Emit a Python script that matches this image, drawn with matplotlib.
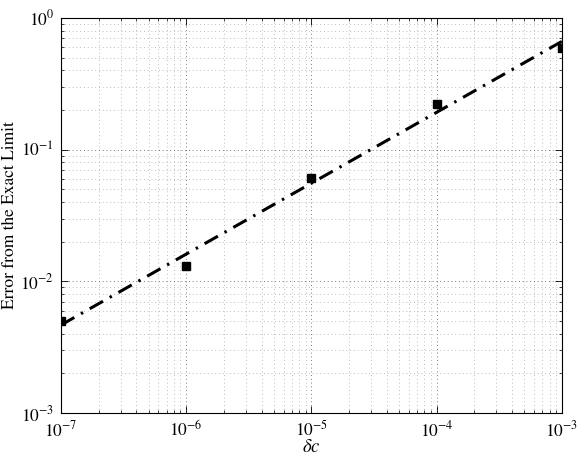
import numpy as np
import matplotlib
matplotlib.use("Agg")
import matplotlib.pyplot as plt
from matplotlib.ticker import LogLocator, NullFormatter

matplotlib.rcParams['mathtext.fontset'] = 'stix'
matplotlib.rcParams['font.family'] = 'STIXGeneral'

# data
delta_c = np.array([1e-7, 1e-6, 1e-5, 1e-4, 1e-3])
error = np.array([0.0050, 0.0131, 0.0613, 0.222, 0.595])

x_ticks = [1e-7, 1e-6, 1e-5, 1e-4, 1e-3]
x_ticklabels = [r'$10^{-7}$', r'$10^{-6}$', r'$10^{-5}$', r'$10^{-4}$', r'$10^{-3}$']
y_ticks = [1e-3, 1e-2, 1e-1, 1e0]
y_ticklabels = [r'$10^{-3}$', r'$10^{-2}$', r'$10^{-1}$', r'$10^{0}$']

# least squares fit in log-log
coeffs = np.polyfit(np.log10(delta_c), np.log10(error), deg=1)
poly = np.poly1d(coeffs)
yfit = 10 ** poly(np.log10(delta_c))

fig = plt.figure(figsize=(5.81, 4.58), dpi=100)
ax = fig.add_axes([0.105, 0.098, 0.862, 0.863])

ax.plot(delta_c, yfit, color='black', lw=2.2, linestyle=(0, (5, 2.5, 0.8, 2.5)), zorder=4)
ax.plot(delta_c, error, 's', color='black', markersize=6, zorder=5)

ax.set_xscale('log')
ax.set_yscale('log')
ax.set_xlim(1e-7, 1e-3)
ax.set_ylim(1e-3, 1e0)

ax.set_xticks(x_ticks)
ax.set_xticklabels(x_ticklabels)
ax.set_yticks(y_ticks)
ax.set_yticklabels(y_ticklabels)
ax.xaxis.set_minor_locator(LogLocator(base=10, subs=np.arange(2, 10)))
ax.yaxis.set_minor_locator(LogLocator(base=10, subs=np.arange(2, 10)))
ax.xaxis.set_minor_formatter(NullFormatter())
ax.yaxis.set_minor_formatter(NullFormatter())

ax.grid(True, which='major', linestyle=(0, (1, 3.5)), color='0.3', lw=0.6)
ax.grid(True, which='minor', linestyle=(0, (1, 3.5)), color='0.65', lw=0.6)

ax.tick_params(which='both', direction='in', top=True, right=True)
ax.tick_params(which='major', length=5, labelsize=12.5, width=0.6)
ax.tick_params(which='minor', length=2.5, width=0.5)
ax.tick_params(axis='x', pad=5)
ax.tick_params(axis='y', pad=5)
for s in ax.spines.values():
    s.set_linewidth(0.8)

ax.set_xlabel(r'$\delta c$', fontsize=13.5, va='top')
ax.xaxis.set_label_coords(0.5, -0.066)
ax.set_ylabel('Error from the Exact Limit', fontsize=12.5)
ax.yaxis.set_label_coords(-0.086, 0.5)

plt.savefig('out.png', dpi=100)
